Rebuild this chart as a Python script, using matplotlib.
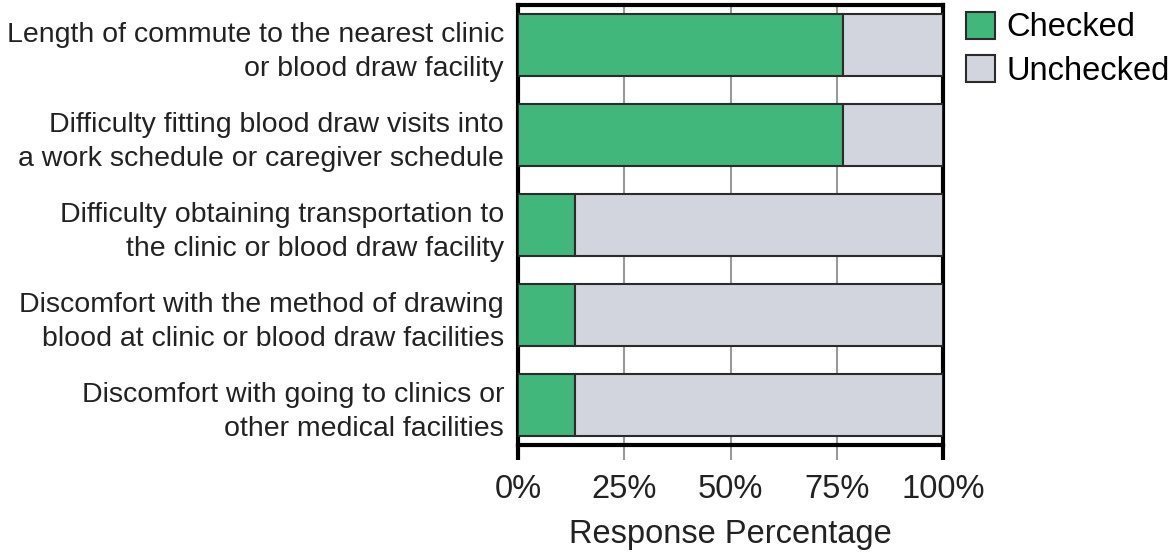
import matplotlib
matplotlib.use("Agg")
import matplotlib.pyplot as plt
from matplotlib.patches import Patch

# survey barriers, top to bottom
categories = [
    "Length of commute to the nearest clinic\nor blood draw facility",
    "Difficulty fitting blood draw visits into\na work schedule or caregiver schedule",
    "Difficulty obtaining transportation to\nthe clinic or blood draw facility",
    "Discomfort with the method of drawing\nblood at clinic or blood draw facilities",
    "Discomfort with going to clinics or\nother medical facilities",
]
checked = [76.5, 76.5, 13.3, 13.3, 13.3]
unchecked = [100 - v for v in checked]
xticks = [0, 25, 50, 75, 100]
xtick_labels = ["0%", "25%", "50%", "75%", "100%"]

green = "#41b77c"
grey = "#d2d5dd"
edge = "#2b2b2b"

plt.rcParams["font.family"] = ["Liberation Sans", "DejaVu Sans"]

fig = plt.figure(figsize=(11.73, 5.56), dpi=100)
ax = fig.add_axes([0.4416, 0.1996, 0.3624, 0.7914])

ypos = list(range(len(categories)))
ax.barh(ypos, checked, height=0.69, color=green, edgecolor=edge, linewidth=1.5, zorder=3)
ax.barh(ypos, unchecked, left=checked, height=0.69, color=grey, edgecolor=edge, linewidth=1.5, zorder=3)

ax.set_xlim(0, 100)
ax.set_ylim(4.45, -0.45)
ax.set_yticks(ypos)
ax.set_yticklabels(categories, fontsize=20.5, color="#222222", linespacing=1.4)
ax.tick_params(axis="y", length=0, pad=10)

ax.set_xticks(xticks)
ax.set_xticklabels(xtick_labels, fontsize=23.5, color="#222222")
ax.tick_params(axis="x", length=11, width=1.5, color="#999999", pad=10)
for t in (ax.xaxis.get_major_ticks()[0], ax.xaxis.get_major_ticks()[-1]):
    t.tick1line.set_markeredgecolor("black")
    t.tick1line.set_markeredgewidth(3)

ax.grid(axis="x", color="#999999", linewidth=1.5, zorder=0)
for s in ax.spines.values():
    s.set_linewidth(3)
    s.set_color("black")

ax.set_xlabel("Response Percentage", fontsize=23.5, color="#222222", labelpad=10)

handles = [
    Patch(facecolor=green, edgecolor=edge, linewidth=1.5, label="Checked"),
    Patch(facecolor=grey, edgecolor=edge, linewidth=1.5, label="Unchecked"),
]
ax.legend(handles=handles, loc="upper left", bbox_to_anchor=(1.054, 0.985), frameon=False,
          fontsize=23.5, handlelength=0.9, handleheight=0.9, handletextpad=0.35,
          labelspacing=0.35, borderaxespad=0, borderpad=0)

fig.savefig("out.png", dpi=100)
